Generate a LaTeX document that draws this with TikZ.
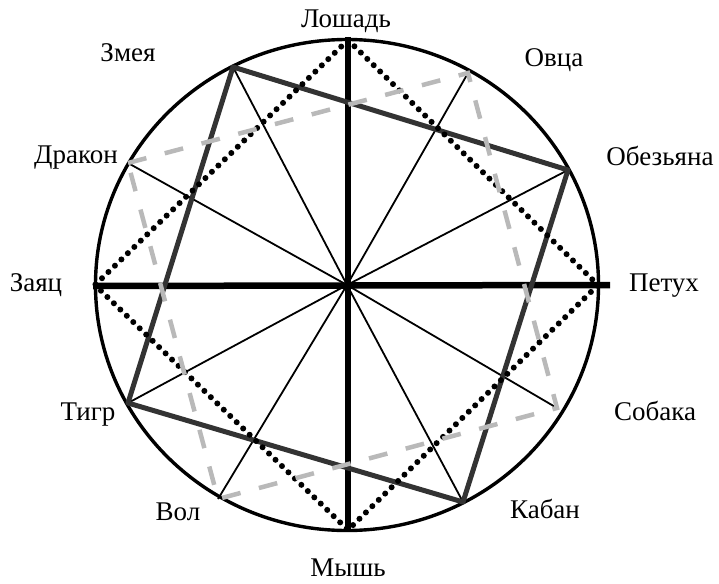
\documentclass[tikz,border=0pt]{standalone}
\usepackage{fontspec}
\setmainfont{Liberation Serif}
\usetikzlibrary{positioning}

\begin{document}
\begin{tikzpicture}[
            x=1pt, y=-1pt,
            sign/.style={font=\fontsize{27}{31}\selectfont, inner sep=0pt, anchor=base},
            spoke/.style={line width=1.8pt},
            axis/.style={line width=6.5pt},
            trine/.style={line width=5pt, gray!40!black},
            dotline/.style={line width=6pt, dash pattern=on 0pt off 9pt, line cap=round},
            dashline/.style={line width=4.5pt, gray!55, dash pattern=on 19pt off 19pt},
        ]
            \useasboundingbox (0,0) rectangle (719,583);

            \coordinate (center) at (347,285);
            \coordinate (snakeV) at (233,67);
            \coordinate (monkeyV) at (568,170);
            \coordinate (boarV) at (463,502);
            \coordinate (tigerV) at (128,403);
            \coordinate (horseV) at (348,40);
            \coordinate (roosterV) at (598,285);
            \coordinate (ratV) at (348,530);
            \coordinate (hareV) at (95,285);
            \coordinate (dragonV) at (128,163);
            \coordinate (sheepV) at (468,73);
            \coordinate (dogV) at (557,408);
            \coordinate (oxV) at (218,499);
            \coordinate (topEnd) at (348,37);
            \coordinate (leftEnd) at (93,286);
            \coordinate (rightEnd) at (610,285);

            \node[sign] (horse) at (346,28) {Лошадь};
            \node[sign] (sheep) at (554,67) {Овца};
            \node[sign] (monkey) at (660,165) {Обезьяна};
            \node[sign] (rooster) at (664,291) {Петух};
            \node[sign] (dog) at (655,420) {Собака};
            \node[sign] (boar) at (545,518) {Кабан};
            \node[sign] (rat) at (348,576) {Мышь};
            \node[sign] (ox) at (178,520) {Вол};
            \node[sign] (tiger) at (88,420) {Тигр};
            \node[sign] (hare) at (36,291) {Заяц};
            \node[sign] (dragon) at (76,163) {Дракон};
            \node[sign] (snake) at (128,62) {Змея};

            \draw[line width=3.4pt] (center) ellipse (251.5 and 245.5);

            \foreach \v in {snakeV, monkeyV, boarV, tigerV, dragonV, sheepV, dogV, oxV}
                \draw[spoke] (center) -- (\v);

            \draw[axis] (topEnd) -- (ratV);
            \draw[axis] (leftEnd) -- (rightEnd);

            \draw[trine, line join=round] (snakeV) -- (monkeyV) -- (boarV) -- (tigerV) -- cycle;
            \draw[dotline] (horseV) -- (roosterV) -- (ratV) -- (hareV) -- cycle;
            \draw[dashline] (dragonV) -- (sheepV) -- (dogV) -- (oxV) -- cycle;

        \end{tikzpicture}
\end{document}
